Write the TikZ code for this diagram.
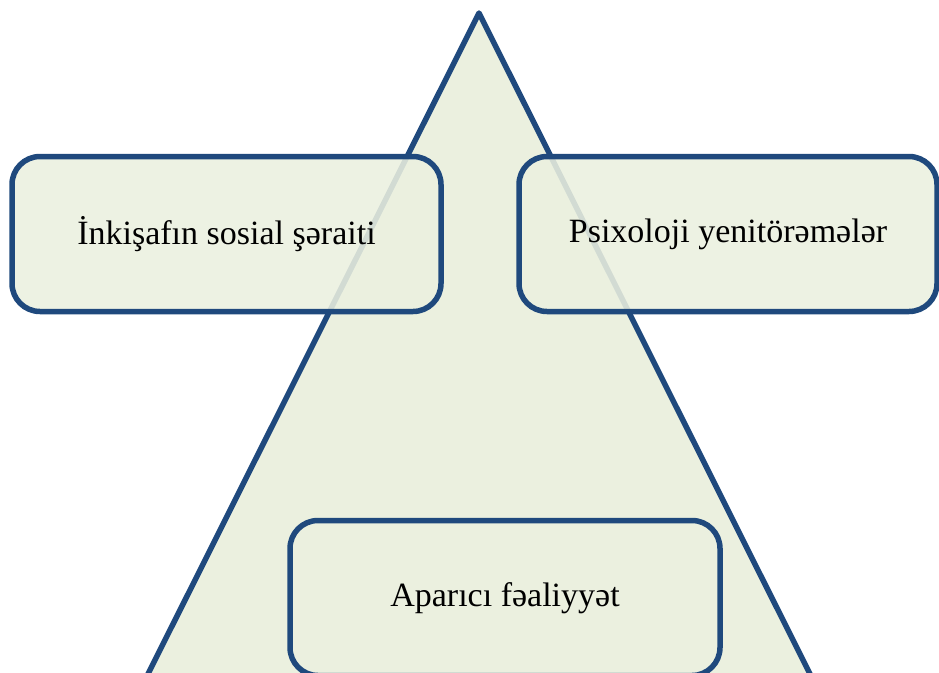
\documentclass[tikz,border=0pt]{standalone}
\usepackage{fontspec}
\setmainfont{Liberation Serif}
\definecolor{darkblue}{HTML}{1F497D}
\definecolor{palegreen}{HTML}{EBF0DF}
\tikzset{hop/.style={draw=darkblue, line width=5.5pt, fill=palegreen, fill opacity=0.88, text opacity=1, rounded corners=28pt, minimum height=155pt, inner sep=0pt}}
\begin{document}
\begin{tikzpicture}[x=1pt, y=-1pt, line join=round, line cap=round, font=\fontsize{34}{40}\selectfont]
\useasboundingbox (0,0) rectangle (939,672);
\clip (0,0) rectangle (939,672);
%Tam giac
\path (479,13) coordinate(T)
(143,684) coordinate(L)
(815,684) coordinate(R)
;
\draw[darkblue, line width=5.5pt, fill=palegreen] (T)--(L)--(R)--cycle;
%Cac hop
\node[hop, minimum width=429pt] (S) at (226.5,234) {İnkişafın sosial şəraiti};
\node[hop, minimum width=418pt] (P) at (728,234) {Psixoloji yenitörəmələr};
\node[hop, minimum width=430pt] (F) at (505,598) {Aparıcı fəaliyyət};
\end{tikzpicture}
\end{document}
